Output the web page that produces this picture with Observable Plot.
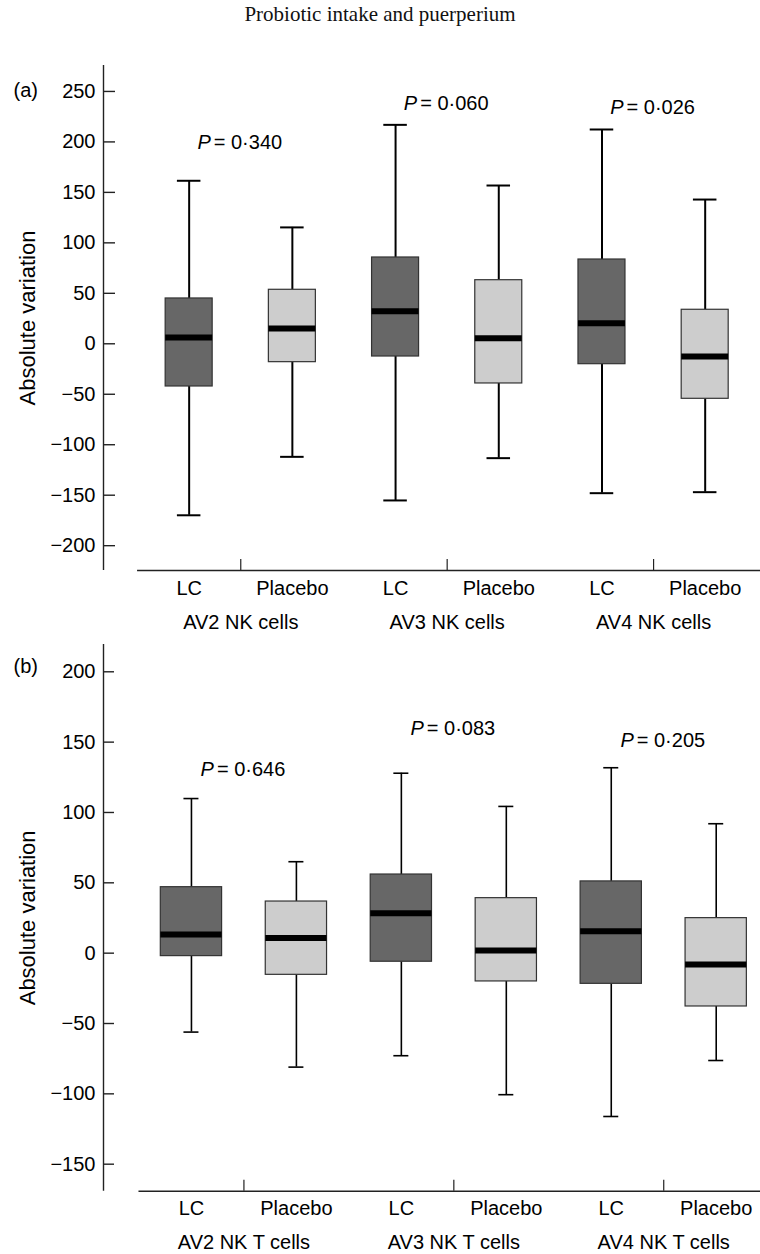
<!DOCTYPE html>
<html><head><meta charset="utf-8">
<script src="https://cdn.jsdelivr.net/npm/d3@7"></script>
<script src="https://cdn.jsdelivr.net/npm/@observablehq/plot@0.6"></script>
<style>
body{margin:0;background:#fff;}
#wrap{width:760px;}
#title{height:40px;font-family:"Liberation Serif","Times New Roman",serif;font-size:21px;text-align:center;line-height:28px;color:#111;}
svg{display:block}
</style></head><body>
<div id="wrap"><div id="title">Probiotic intake and puerperium</div><div id="pa"></div><div id="pb"></div></div>
<script>
// ---- data ----
const treatments = ["LC", "Placebo", "LC", "Placebo", "LC", "Placebo"];
const groupsA = ["AV2 NK cells", "AV3 NK cells", "AV4 NK cells"];
const groupsB = ["AV2 NK T cells", "AV3 NK T cells", "AV4 NK T cells"];

// Panel (a): NK cells
const whiskerHighA = [161.5, 115.3, 216.9, 156.8, 212.3, 142.9];
const q3A          = [44.9, 53.5, 85.5, 63.0, 83.5, 33.7];
const medianA      = [6.2, 15.2, 32.3, 5.6, 20.4, -12.6];
const q1A          = [-42.3, -18.2, -12.6, -39.3, -20.2, -54.5];
const whiskerLowA  = [-169.9, -112.0, -155.2, -113.3, -148.0, -147.0];
const pValuesA = ["0·340", "0·060", "0·026"];
const pLabelAtA = [199.7, 237.7, 234.4];
const yTicksA = [-200, -150, -100, -50, 0, 50, 100, 150, 200, 250];

// Panel (b): NK T cells
const whiskerHighB = [109.9, 65.0, 127.9, 104.3, 131.8, 92.0];
const q3B          = [46.9, 36.7, 55.9, 39.1, 51.0, 24.9];
const medianB      = [13.3, 10.7, 28.4, 1.9, 15.6, -8.0];
const q1B          = [-2.1, -15.4, -6.1, -20.1, -21.8, -37.9];
const whiskerLowB  = [-56.1, -81.0, -72.9, -100.6, -116.1, -76.3];
const pValuesB = ["0·646", "0·083", "0·205"];
const pLabelAtB = [130.2, 159.4, 151.1];
const yTicksB = [-150, -100, -50, 0, 50, 100, 150, 200];

// ---- drawing ----
const FONT = '"Liberation Sans", Arial, Helvetica, sans-serif';
const fills = {LC: "#676767", Placebo: "#cdcdcd"};
const fmt = d => d < 0 ? "\u2212" + Math.abs(d) : String(d);

function panel(cfg) {
  const rows = treatments.map((t, i) => ({
    i, t, hi: cfg.hi[i], q3: cfg.q3[i], med: cfg.med[i], q1: cfg.q1[i], lo: cfg.lo[i]
  }));
  const groupCenters = cfg.groups.map((g, k) => 2 * k + 0.5);
  const pRows = cfg.p.map((p, k) => ({g: 2 * k + 0.5, p, at: cfg.pAt[k]}));
  const frameW = cfg.width - cfg.ml - cfg.mr;
  const frameH = cfg.height - cfg.mt - cfg.mb;
  const bw = cfg.boxHalf, cw = cfg.capHalf;
  return Plot.plot({
    width: cfg.width, height: cfg.height,
    marginLeft: cfg.ml, marginRight: cfg.mr, marginTop: cfg.mt, marginBottom: cfg.mb,
    style: {fontFamily: FONT, fontSize: "20px", color: "#000", background: "#fff"},
    x: {type: "linear", domain: cfg.xDomain, label: null},
    y: {domain: cfg.yDomain, label: null},
    marks: [
      // axes lines
      Plot.ruleX([cfg.xDomain[0]], {stroke: "#222", strokeWidth: 1.4}),
      Plot.ruleY([cfg.yDomain[0]], {x1: -0.5, x2: cfg.xDomain[1], stroke: "#222", strokeWidth: 1.4}),
      Plot.tickY(cfg.yTicks, {y: d => d, insetRight: frameW - cfg.yTickLen, stroke: "#222", strokeWidth: 1.4}),
      Plot.axisY({ticks: cfg.yTicks, tickSize: 0, tickPadding: 8, tickFormat: fmt, label: null, fontSize: 20}),
      Plot.tickX(groupCenters, {x: d => d, insetTop: frameH - 11, stroke: "#222", strokeWidth: 1.2}),
      Plot.axisX({ticks: d3.range(treatments.length), tickFormat: i => treatments[i], tickSize: 0, tickPadding: 10, label: null, fontSize: 20}),
      Plot.axisX({ticks: groupCenters, tickFormat: d => cfg.groups[(d - 0.5) / 2], tickSize: 0, tickPadding: 44, label: null, fontSize: 20}),
      // whiskers
      Plot.ruleX(rows, {x: "i", y1: "lo", y2: "q1", stroke: "#000", strokeWidth: cfg.whiskerW}),
      Plot.ruleX(rows, {x: "i", y1: "q3", y2: "hi", stroke: "#000", strokeWidth: cfg.whiskerW}),
      Plot.ruleY(rows, {y: "hi", x1: d => d.i - cw, x2: d => d.i + cw, stroke: "#000", strokeWidth: cfg.whiskerW}),
      Plot.ruleY(rows, {y: "lo", x1: d => d.i - cw, x2: d => d.i + cw, stroke: "#000", strokeWidth: cfg.whiskerW}),
      // boxes
      Plot.rect(rows, {x1: d => d.i - bw, x2: d => d.i + bw, y1: "q1", y2: "q3", fill: d => fills[d.t], stroke: "#333", strokeWidth: 1.2}),
      // medians
      Plot.ruleY(rows, {y: "med", x1: d => d.i - bw, x2: d => d.i + bw, stroke: "#000", strokeWidth: 6}),
      // P labels
      Plot.text(pRows, {x: "g", y: "at", text: () => "P", fontStyle: "italic", textAnchor: "end", dx: -30, fontSize: 20}),
      Plot.text(pRows, {x: "g", y: "at", text: d => "= " + d.p, textAnchor: "start", dx: -27, fontSize: 20}),
      // panel tag
      Plot.text([cfg.tag], {text: d => d, frameAnchor: "top-left", textAnchor: "start", dx: 13 - cfg.ml, dy: cfg.tagDy, fontSize: 20}),
      // y label
      Plot.text(["Absolute variation"], {text: d => d, frameAnchor: "left", textAnchor: "middle", rotate: -90, dx: 27 - cfg.ml, fontSize: 22})
    ]
  });
}

document.getElementById("pa").appendChild(panel({
  width: 760, height: 600, ml: 103, mr: 0, mt: 25, mb: 70,
  xDomain: [-0.83, 5.536], yDomain: [-224.6, 275.7],
  hi: whiskerHighA, q3: q3A, med: medianA, q1: q1A, lo: whiskerLowA,
  groups: groupsA, p: pValuesA, pAt: pLabelAtA, yTicks: yTicksA,
  boxHalf: 0.2277, capHalf: 0.114, whiskerW: 2, yTickLen: 12, tag: "(a)", tagDy: 17
}));
document.getElementById("pb").appendChild(panel({
  width: 760, height: 614, ml: 103, mr: 0, mt: 4, mb: 63.3,
  xDomain: [-0.838, 5.422], yDomain: [-169.2, 219.4],
  hi: whiskerHighB, q3: q3B, med: medianB, q1: q1B, lo: whiskerLowB,
  groups: groupsB, p: pValuesB, pAt: pLabelAtB, yTicks: yTicksB,
  boxHalf: 0.292, capHalf: 0.0715, whiskerW: 1.6, yTickLen: 11, tag: "(b)", tagDy: 14
}));
</script>
</body></html>
